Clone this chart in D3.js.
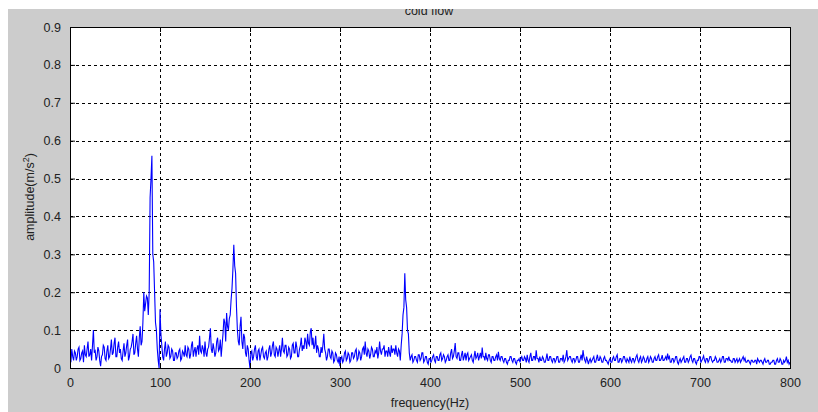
<!DOCTYPE html>
<html>
<head>
<meta charset="utf-8">
<script src="https://cdn.jsdelivr.net/npm/d3@7/dist/d3.min.js"></script>
<style>
    body { margin: 0; background: #fff; }
    svg { display: block; font-family: "Liberation Sans", Arial, sans-serif; }
</style>
</head>
<body>
<div id="chart"></div>
<script>
// spectrum sampled every 1 Hz, 0..800 Hz (one row = 20 Hz)
const freqStep = 1;
const amplitude = [
    0.03,0.015,0.05,0.03,0.02, 0.045,0.04,0.02,0.03,0.05, 0.055,0.02,0.025,0.04,0.045, 0.015,0.06,0.035,0.03,0.05,
    0.07,0.03,0.035,0.05,0.02, 0.06,0.10,0.04,0.045,0.02, 0.03,0.055,0.045,0.02,0.005, 0.03,0.035,0.06,0.055,0.025,
    0.02,0.045,0.06,0.025,0.03, 0.05,0.075,0.035,0.04,0.065, 0.08,0.03,0.03,0.055,0.07, 0.04,0.05,0.025,0.02,0.045,
    0.065,0.03,0.04,0.06,0.075, 0.02,0.03,0.05,0.055,0.07, 0.09,0.035,0.04,0.065,0.085, 0.05,0.03,0.08,0.11,0.06,
    0.07,0.12,0.20,0.15,0.17, 0.19,0.185,0.14,0.20,0.45, 0.50,0.56,0.30,0.28,0.20, 0.12,0.10,0.05,0.02,0.0,
    0.155,0.09,0.06,0.03,0.02, 0.05,0.07,0.03,0.04,0.06, 0.055,0.025,0.03,0.05,0.045, 0.02,0.02,0.04,0.04,0.025,
    0.03,0.045,0.05,0.02,0.025, 0.045,0.04,0.03,0.06,0.035, 0.03,0.055,0.05,0.025,0.035, 0.06,0.07,0.03,0.045,0.055,
    0.03,0.05,0.06,0.035,0.085, 0.045,0.04,0.06,0.05,0.03, 0.07,0.04,0.03,0.05,0.055, 0.08,0.105,0.05,0.04,0.065,
    0.05,0.03,0.04,0.07,0.08, 0.045,0.05,0.075,0.03,0.06, 0.09,0.13,0.12,0.07,0.145, 0.11,0.10,0.13,0.14,0.18,
    0.21,0.26,0.325,0.27,0.25, 0.16,0.10,0.07,0.06,0.11, 0.135,0.07,0.05,0.09,0.08, 0.04,0.03,0.06,0.05,0.02,
    0.0,0.04,0.045,0.02,0.03, 0.05,0.06,0.03,0.02,0.045, 0.05,0.02,0.035,0.05,0.055, 0.03,0.025,0.04,0.045,0.02,
    0.03,0.05,0.06,0.03,0.04, 0.06,0.07,0.035,0.03,0.055, 0.05,0.03,0.045,0.06,0.03, 0.05,0.08,0.045,0.04,0.06,
    0.06,0.03,0.035,0.055,0.05, 0.025,0.03,0.06,0.065,0.04, 0.04,0.07,0.055,0.03,0.03, 0.05,0.06,0.08,0.045,0.06,
    0.05,0.08,0.07,0.05,0.09, 0.065,0.06,0.095,0.105,0.06, 0.08,0.05,0.06,0.085,0.04, 0.06,0.05,0.03,0.03,0.055,
    0.04,0.06,0.09,0.05,0.04, 0.02,0.03,0.05,0.05,0.03, 0.025,0.045,0.04,0.015,0.02, 0.04,0.035,0.02,0.015,0.03,
    0.005,0.025,0.03,0.015,0.02, 0.04,0.045,0.02,0.025,0.04, 0.035,0.015,0.02,0.04,0.04, 0.025,0.03,0.045,0.05,0.02,
    0.025,0.045,0.04,0.02,0.03, 0.05,0.055,0.035,0.07,0.04, 0.03,0.05,0.045,0.025,0.035, 0.055,0.05,0.03,0.03,0.045,
    0.04,0.055,0.025,0.04,0.07, 0.045,0.035,0.05,0.05,0.06, 0.03,0.045,0.045,0.03,0.055, 0.04,0.03,0.06,0.04,0.05,
    0.05,0.035,0.06,0.04,0.03, 0.05,0.045,0.02,0.06,0.09, 0.14,0.16,0.25,0.18,0.16, 0.10,0.09,0.04,0.02,0.03,
    0.035,0.015,0.02,0.03,0.03, 0.02,0.015,0.035,0.035,0.02, 0.025,0.04,0.04,0.015,0.02, 0.03,0.03,0.015,0.01,0.025,
    0.025,0.015,0.02,0.03,0.035, 0.02,0.015,0.03,0.03,0.02, 0.02,0.035,0.04,0.02,0.025, 0.035,0.03,0.015,0.02,0.03,
    0.035,0.02,0.02,0.04,0.05, 0.025,0.03,0.045,0.066,0.03, 0.025,0.04,0.04,0.02,0.02, 0.035,0.045,0.02,0.03,0.04,
    0.02,0.035,0.04,0.02,0.025, 0.03,0.035,0.02,0.015,0.03, 0.045,0.025,0.03,0.04,0.02, 0.03,0.04,0.025,0.054,0.03,
    0.03,0.02,0.04,0.025,0.02, 0.035,0.035,0.02,0.015,0.03, 0.03,0.02,0.02,0.03,0.035, 0.02,0.043,0.025,0.02,0.03,
    0.03,0.02,0.015,0.025,0.025, 0.015,0.01,0.02,0.02,0.03, 0.03,0.02,0.015,0.025,0.025, 0.015,0.01,0.02,0.02,0.025,
    0.015,0.025,0.03,0.02,0.02, 0.03,0.025,0.015,0.035,0.02, 0.015,0.03,0.04,0.02,0.02, 0.03,0.03,0.02,0.047,0.025,
    0.025,0.015,0.03,0.02,0.02, 0.03,0.025,0.015,0.015,0.025, 0.038,0.02,0.02,0.03,0.03, 0.02,0.015,0.025,0.025,0.015,
    0.02,0.03,0.03,0.015,0.015, 0.025,0.025,0.02,0.035,0.015, 0.02,0.03,0.047,0.02,0.025, 0.03,0.03,0.02,0.015,0.025,
    0.025,0.015,0.02,0.03,0.03, 0.015,0.015,0.025,0.035,0.02, 0.047,0.03,0.02,0.015,0.03, 0.02,0.01,0.02,0.025,0.015,
    0.02,0.025,0.03,0.015,0.015, 0.025,0.035,0.02,0.02,0.03, 0.025,0.015,0.015,0.025,0.03, 0.02,0.02,0.015,0.01,0.02,
    0.025,0.015,0.015,0.025,0.03, 0.02,0.02,0.03,0.035,0.015, 0.015,0.025,0.025,0.015,0.02, 0.03,0.03,0.02,0.015,0.025,
    0.02,0.015,0.03,0.02,0.015, 0.025,0.025,0.015,0.02,0.03, 0.035,0.02,0.015,0.025,0.03, 0.015,0.02,0.03,0.025,0.015,
    0.015,0.025,0.03,0.015,0.02, 0.03,0.025,0.015,0.015,0.025, 0.03,0.02,0.02,0.03,0.035, 0.02,0.02,0.025,0.034,0.02,
    0.02,0.025,0.03,0.02,0.038, 0.025,0.03,0.015,0.015,0.025, 0.025,0.015,0.02,0.03,0.03, 0.015,0.01,0.02,0.025,0.015,
    0.02,0.025,0.03,0.015,0.015, 0.025,0.025,0.015,0.02,0.03, 0.034,0.02,0.015,0.025,0.025, 0.015,0.01,0.02,0.02,0.03,
    0.03,0.015,0.02,0.025,0.032, 0.02,0.015,0.025,0.025,0.015, 0.02,0.03,0.03,0.02,0.015, 0.02,0.02,0.03,0.025,0.015,
    0.015,0.02,0.025,0.015,0.02, 0.03,0.03,0.015,0.015,0.025, 0.025,0.02,0.03,0.02,0.02, 0.015,0.015,0.025,0.025,0.015,
    0.02,0.025,0.015,0.02,0.025, 0.015,0.02,0.025,0.03,0.02, 0.026,0.015,0.015,0.02,0.02, 0.015,0.01,0.02,0.02,0.015,
    0.015,0.02,0.02,0.01,0.025, 0.02,0.015,0.02,0.02,0.015, 0.01,0.02,0.025,0.015,0.015, 0.02,0.02,0.01,0.01,0.015,
    0.015,0.02,0.02,0.01,0.01, 0.02,0.025,0.015,0.015,0.025, 0.02,0.01,0.01,0.02,0.015, 0.02,0.03,0.015,0.02,0.01,
    0.015
];

const xTicks = [0, 100, 200, 300, 400, 500, 600, 700, 800];
const yTicks = [0, 0.1, 0.2, 0.3, 0.4, 0.5, 0.6, 0.7, 0.8, 0.9];

const title = "cold flow";
const xLabel = "frequency(Hz)";

const width = 818, height = 412;
const plot = { left: 70, top: 27, right: 790, bottom: 368 };

const svg = d3.select("#chart").append("svg")
    .attr("width", width)
    .attr("height", height);

// figure background (grey, with the white strip the screenshot shows)
svg.append("rect")
    .attr("x", 8).attr("y", 9)
    .attr("width", width - 8).attr("height", height - 9)
    .attr("fill", "#cccccc");

const x = d3.scaleLinear().domain([0, 800]).range([plot.left, plot.right]);
const y = d3.scaleLinear().domain([0, 0.9]).range([plot.bottom, plot.top]);

svg.append("rect")
    .attr("x", plot.left).attr("y", plot.top)
    .attr("width", plot.right - plot.left).attr("height", plot.bottom - plot.top)
    .attr("fill", "#fff");

// dotted grid
const grid = svg.append("g")
    .attr("stroke", "#000")
    .attr("stroke-width", 1)
    .attr("stroke-dasharray", "3,3");

grid.selectAll("line.gx")
    .data(xTicks.slice(1, -1))
    .join("line")
    .attr("class", "gx")
    .attr("x1", d => Math.round(x(d)) + 0.5)
    .attr("x2", d => Math.round(x(d)) + 0.5)
    .attr("y1", plot.top)
    .attr("y2", plot.bottom);

grid.selectAll("line.gy")
    .data(yTicks.slice(1, -1))
    .join("line")
    .attr("class", "gy")
    .attr("y1", d => Math.round(y(d)) + 0.5)
    .attr("y2", d => Math.round(y(d)) + 0.5)
    .attr("x1", plot.left)
    .attr("x2", plot.right);

// spectrum
svg.append("clipPath").attr("id", "clip")
    .append("rect")
    .attr("x", plot.left).attr("y", plot.top)
    .attr("width", plot.right - plot.left).attr("height", plot.bottom - plot.top);

const line = d3.line()
    .x((d, i) => x(i * freqStep))
    .y(d => y(d));

svg.append("path")
    .datum(amplitude)
    .attr("clip-path", "url(#clip)")
    .attr("fill", "none")
    .attr("stroke", "#0000ff")
    .attr("stroke-width", 1.1)
    .attr("d", line);

// axes, MATLAB style: ticks inside, box around
const xAxis = svg.append("g")
    .attr("transform", `translate(0,${plot.bottom})`)
    .call(d3.axisBottom(x).tickValues(xTicks).tickSize(-5).tickPadding(10).tickFormat(d3.format("d")));

const xAxisTop = svg.append("g")
    .attr("transform", `translate(0,${plot.top})`)
    .call(d3.axisTop(x).tickValues(xTicks).tickSize(-5).tickFormat(""));

const yAxis = svg.append("g")
    .attr("transform", `translate(${plot.left},0)`)
    .call(d3.axisLeft(y).tickValues(yTicks).tickSize(-5).tickPadding(9).tickFormat(d => d === 0 ? "0" : d3.format(".1f")(d)));

const yAxisRight = svg.append("g")
    .attr("transform", `translate(${plot.right},0)`)
    .call(d3.axisRight(y).tickValues(yTicks).tickSize(-5).tickFormat(""));

for(const g of [xAxis, xAxisTop, yAxis, yAxisRight])
{
    g.select(".domain").remove();
    g.selectAll("line").attr("stroke", "#000");
    g.selectAll("text")
        .attr("fill", "#222")
        .style("font-size", "12.5px")
        .style("font-family", "\"Liberation Sans\", Arial, sans-serif");
}

svg.append("rect")
    .attr("x", plot.left + 0.5).attr("y", plot.top + 0.5)
    .attr("width", plot.right - plot.left).attr("height", plot.bottom - plot.top)
    .attr("fill", "none")
    .attr("stroke", "#000")
    .attr("stroke-width", 1);

// labels
svg.append("text")
    .attr("x", (plot.left + plot.right) / 2)
    .attr("y", 407)
    .attr("text-anchor", "middle")
    .attr("fill", "#222")
    .style("font-size", "12.5px")
    .text(xLabel);

const yl = svg.append("text")
    .attr("transform", "translate(34,197) rotate(-90)")
    .attr("text-anchor", "middle")
    .attr("fill", "#222")
    .style("font-size", "12.5px");
yl.append("tspan").text("amplitude(m/s");
yl.append("tspan").attr("dy", -5).style("font-size", "9px").text("2");
yl.append("tspan").attr("dy", 5).text(")");

svg.append("text")
    .attr("x", 429)
    .attr("y", 15)
    .attr("text-anchor", "middle")
    .attr("fill", "#222")
    .style("font-size", "12.5px")
    .text(title);

// white strip on top clips the title like in the screenshot
svg.append("rect")
    .attr("x", 0).attr("y", 0)
    .attr("width", width).attr("height", 9)
    .attr("fill", "#fff");
</script>
</body>
</html>
